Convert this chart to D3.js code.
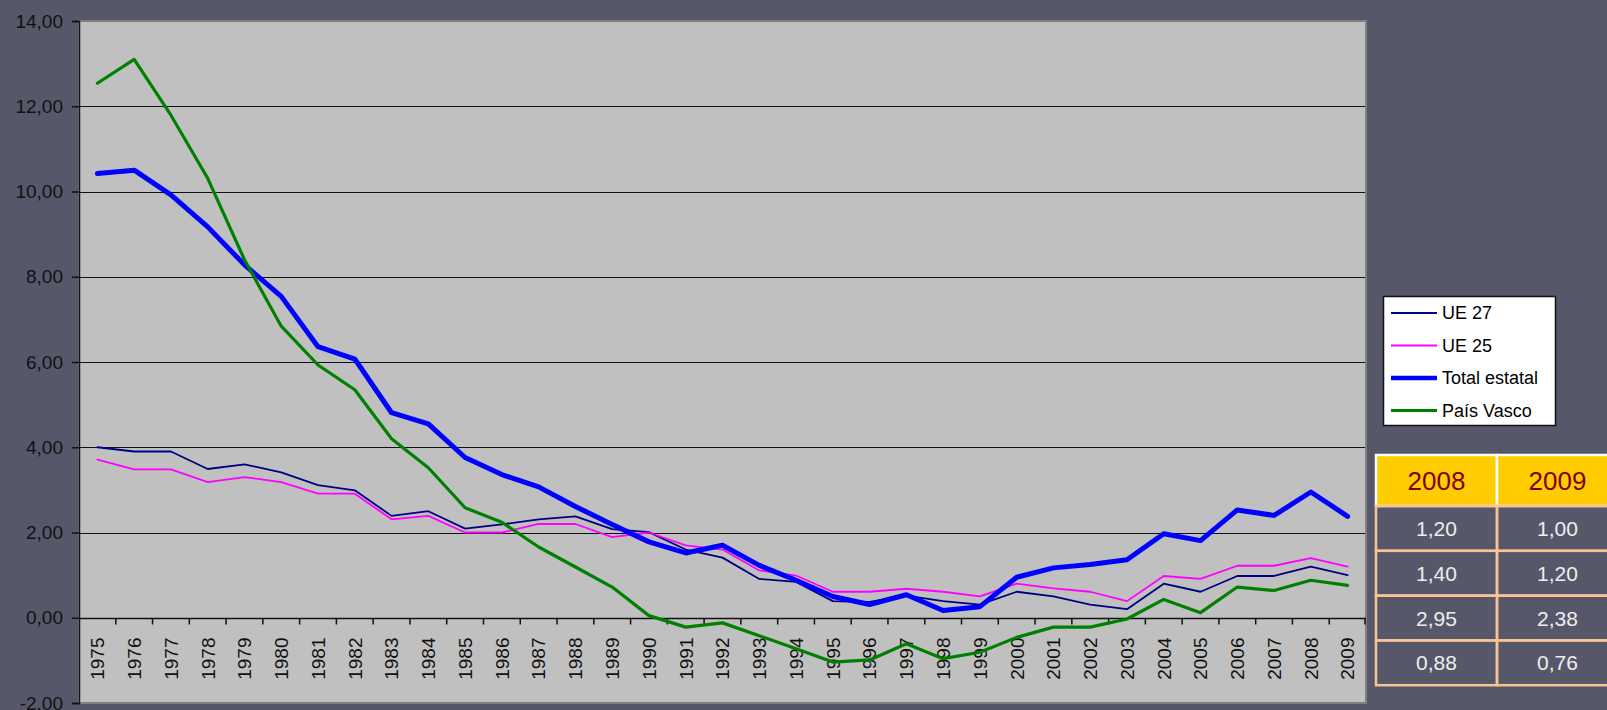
<!DOCTYPE html>
<html>
<head>
<meta charset="utf-8">
<script src="https://cdn.jsdelivr.net/npm/d3@7"></script>
<style>
  html, body { margin: 0; padding: 0; background: #56586a; }
  svg { display: block; font-family: "Liberation Sans", Arial, sans-serif; }
</style>
</head>
<body>
<div id="chart"></div>
<script>
// data
const years = d3.range(1975, 2010).map(String);
const ue27 = [4.00, 3.90, 3.90, 3.49, 3.60, 3.41, 3.11, 2.99, 2.39, 2.50,
    2.09, 2.19, 2.31, 2.38, 2.08, 2.01, 1.60, 1.41, 0.91, 0.84,
    0.39, 0.37, 0.52, 0.39, 0.31, 0.61, 0.50, 0.31, 0.20, 0.80,
    0.61, 0.98, 0.98, 1.20, 1.00];
const ue25 = [3.71, 3.48, 3.48, 3.18, 3.30, 3.18, 2.91, 2.91, 2.31, 2.39,
    2.00, 2.00, 2.20, 2.20, 1.89, 2.00, 1.70, 1.60, 1.11, 0.99,
    0.61, 0.61, 0.68, 0.61, 0.50, 0.80, 0.69, 0.61, 0.39, 0.98,
    0.91, 1.22, 1.22, 1.40, 1.20];
const totalEstatal = [10.42, 10.50, 9.92, 9.17, 8.28, 7.54, 6.36, 6.07, 4.81, 4.55,
    3.76, 3.36, 3.07, 2.61, 2.19, 1.78, 1.52, 1.70, 1.23, 0.88,
    0.50, 0.31, 0.54, 0.17, 0.26, 0.95, 1.17, 1.25, 1.36, 1.97,
    1.81, 2.53, 2.40, 2.95, 2.38];
const paisVasco = [12.54, 13.10, 11.79, 10.31, 8.40, 6.84, 5.93, 5.35, 4.20, 3.52,
    2.58, 2.24, 1.66, 1.19, 0.72, 0.05, -0.22, -0.12, -0.42, -0.73,
    -1.04, -0.99, -0.61, -0.96, -0.81, -0.46, -0.22, -0.22, -0.03, 0.43,
    0.12, 0.72, 0.64, 0.88, 0.76];
const seriesNames = ["UE 27", "UE 25", "Total estatal", "País Vasco"];
const yTicks = [-2, 0, 2, 4, 6, 8, 10, 12, 14];
const tableYears = ["2008", "2009"];

const W = 1607, H = 710;
const fmt = v => d3.format(".2f")(v).replace(".", ",").replace("\u2212", "-");

const series = [
    { name: seriesNames[0], values: ue27, color: "#000080", width: 1.8 },
    { name: seriesNames[1], values: ue25, color: "#ff00ff", width: 1.8 },
    { name: seriesNames[2], values: totalEstatal, color: "#0000ff", width: 5 },
    { name: seriesNames[3], values: paisVasco, color: "#008000", width: 3.2 }
];

const svg = d3.select("#chart").append("svg")
    .attr("width", W)
    .attr("height", H);

svg.append("rect").attr("width", W).attr("height", H).attr("fill", "#56586a");

const plot = { left: 79, right: 1366, top: 21, bottom: 703 };

const x = d3.scaleBand().domain(years).range([plot.left, plot.right]).padding(0);
const y = d3.scaleLinear().domain([-2, 14]).range([plot.bottom, plot.top]);

// plot area
svg.append("rect")
    .attr("x", plot.left).attr("y", plot.top)
    .attr("width", plot.right - plot.left).attr("height", plot.bottom - plot.top)
    .attr("fill", "#c0c0c0")
    .attr("stroke", "#808080")
    .attr("stroke-width", 2);

// gridlines
svg.append("g")
    .selectAll("line")
    .data(yTicks.filter(d => d > 0 && d < 14))
    .enter()
    .append("line")
    .attr("x1", plot.left).attr("x2", plot.right - 1)
    .attr("y1", d => Math.round(y(d)) + 0.5).attr("y2", d => Math.round(y(d)) + 0.5)
    .attr("stroke", "#111")
    .attr("stroke-width", 1);

// y axis
const yAxis = d3.axisLeft(y)
    .tickValues(yTicks)
    .tickSize(7)
    .tickPadding(9)
    .tickFormat(fmt);
const gy = svg.append("g")
    .attr("transform", "translate(" + plot.left + ",0)")
    .call(yAxis);
gy.select(".domain").attr("stroke", "#111").attr("stroke-width", 1.5);
gy.selectAll(".tick line").attr("stroke", "#111").attr("stroke-width", 1.5);
gy.selectAll(".tick text")
    .attr("fill", "#111")
    .style("font-size", "19px")
    .attr("font-family", "Liberation Sans, Arial, sans-serif");

// x axis at zero
const y0 = Math.round(y(0)) + 0.5;
svg.append("line")
    .attr("x1", plot.left).attr("x2", plot.right)
    .attr("y1", y0).attr("y2", y0)
    .attr("stroke", "#111").attr("stroke-width", 1.5);
svg.append("g")
    .selectAll("line")
    .data(years.slice(1).concat(["end"]))
    .enter()
    .append("line")
    .attr("x1", d => d === "end" ? plot.right - 1 : x(d))
    .attr("x2", d => d === "end" ? plot.right - 1 : x(d))
    .attr("y1", y0).attr("y2", y0 + 6)
    .attr("stroke", "#111").attr("stroke-width", 1.5);
svg.append("g")
    .selectAll("text")
    .data(years)
    .enter()
    .append("text")
    .attr("transform", d => "translate(" + (x(d) + x.bandwidth() / 2) + "," + (y0 + 19) + ") rotate(-90)")
    .attr("text-anchor", "end")
    .attr("dy", "0.36em")
    .style("font-size", "19px")
    .attr("fill", "#111")
    .text(d => d);

// lines
const line = d3.line()
    .x((d, i) => x(years[i]) + x.bandwidth() / 2)
    .y(d => y(d));
svg.append("g")
    .selectAll("path")
    .data(series)
    .enter()
    .append("path")
    .attr("d", d => line(d.values))
    .attr("fill", "none")
    .attr("stroke", d => d.color)
    .attr("stroke-width", d => d.width)
    .attr("stroke-linejoin", "round")
    .attr("stroke-linecap", "round");

// legend
const lg = svg.append("g").attr("transform", "translate(1383,296)");
lg.append("rect")
    .attr("x", 0.5).attr("y", 0.5)
    .attr("width", 172).attr("height", 129)
    .attr("fill", "#fff")
    .attr("stroke", "#111")
    .attr("stroke-width", 1.5);
const items = lg.selectAll(".item")
    .data(series)
    .enter()
    .append("g")
    .attr("class", "item")
    .attr("transform", (d, i) => "translate(0," + (17 + i * 32.5) + ")");
items.append("line")
    .attr("x1", 8).attr("x2", 54)
    .attr("stroke", d => d.color)
    .attr("stroke-width", d => d.width === 5 ? 4.5 : d.width);
items.append("text")
    .attr("x", 59)
    .attr("dy", "0.36em")
    .style("font-size", "18px")
    .attr("fill", "#000")
    .text(d => d.name);

// table with the last two years
const tbl = svg.append("g").attr("transform", "translate(1376,455)");
const colW = 121, headH = 51, rowH = 44.8;
tbl.selectAll(".head")
    .data(tableYears)
    .enter()
    .append("rect")
    .attr("x", (d, i) => i * colW).attr("y", 0)
    .attr("width", colW).attr("height", headH)
    .attr("fill", "#ffcc00")
    .attr("stroke", "#ffffff")
    .attr("stroke-width", 2.5);
tbl.selectAll(".headText")
    .data(tableYears)
    .enter()
    .append("text")
    .attr("x", (d, i) => i * colW + colW / 2)
    .attr("y", headH / 2)
    .attr("dy", "0.36em")
    .attr("text-anchor", "middle")
    .style("font-size", "26px")
    .attr("fill", "#800000")
    .text(d => d);

const cells = [];
series.forEach((s, r) => {
    tableYears.forEach((yr, c) => {
        cells.push({ r: r, c: c, v: s.values[years.indexOf(yr)] });
    });
});
tbl.selectAll(".cell")
    .data(cells)
    .enter()
    .append("rect")
    .attr("x", d => d.c * colW)
    .attr("y", d => headH + d.r * rowH)
    .attr("width", colW).attr("height", rowH)
    .attr("fill", "none")
    .attr("stroke", "#f8c493")
    .attr("stroke-width", 2.5);
tbl.selectAll(".cellText")
    .data(cells)
    .enter()
    .append("text")
    .attr("x", d => d.c * colW + colW / 2)
    .attr("y", d => headH + d.r * rowH + rowH / 2)
    .attr("dy", "0.36em")
    .attr("text-anchor", "middle")
    .style("font-size", "21px")
    .attr("fill", "#eeeeee")
    .text(d => fmt(d.v));
</script>
</body>
</html>
